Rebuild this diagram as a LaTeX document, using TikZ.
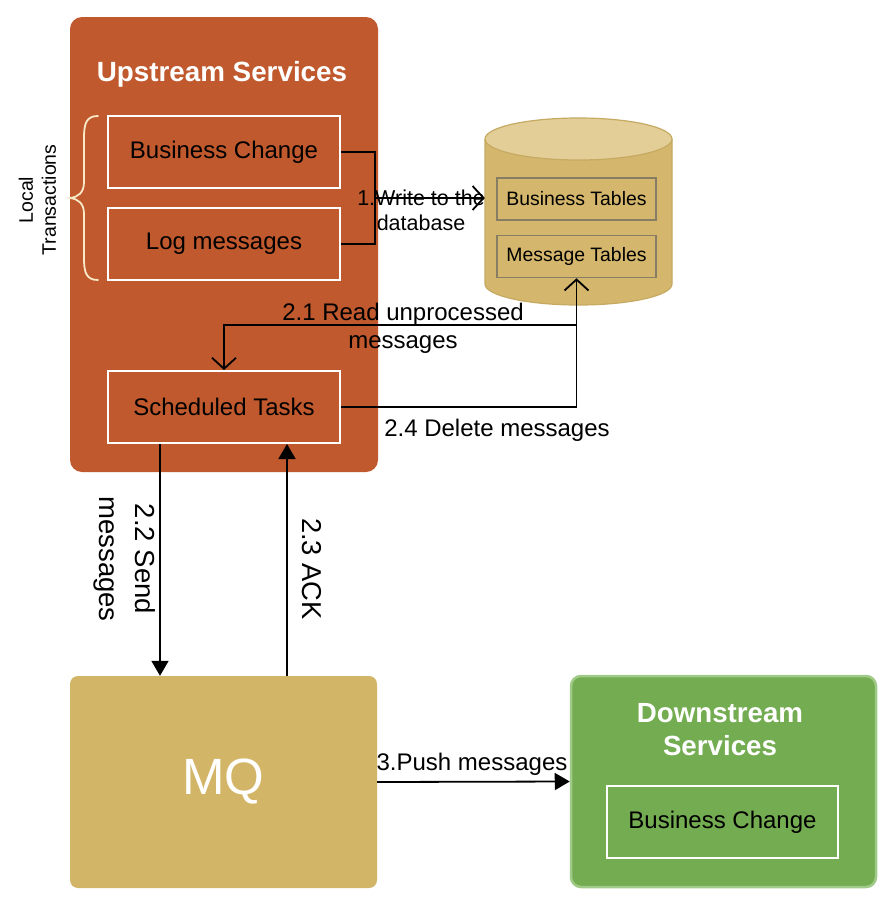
\documentclass[tikz,border=0pt]{standalone}
\usepackage{fontspec}
\setmainfont{Liberation Sans}
\usetikzlibrary{arrows.meta}
\definecolor{upc}{RGB}{192,89,45}
\definecolor{mqc}{RGB}{211,181,103}
\definecolor{dsc}{RGB}{116,172,82}
\definecolor{dsb}{RGB}{160,202,136}
\definecolor{cylbody}{RGB}{212,182,108}
\definecolor{cyltop}{RGB}{227,206,152}
\definecolor{cylline}{RGB}{198,170,98}
\definecolor{tabline}{RGB}{135,125,100}
\definecolor{bracec}{RGB}{248,232,200}
\tikzset{
  fs/.style 2 args={font=\fontsize{#1}{#2}\selectfont},
  inbox/.style={draw=white, line width=2pt, minimum width=232pt, minimum height=72pt, inner sep=0pt, fs={24}{28}},
  tabbox/.style={draw=tabline, line width=1.5pt, minimum width=159pt, minimum height=42pt, inner sep=0pt, fs={19.4}{23}},
  conn/.style={line width=1.8pt, black},
  openarr/.style={conn, -{Straight Barb[length=11pt,width=24pt,line width=1.8pt]}},
  fillarr/.style={conn, -{Triangle[length=15pt,width=17pt]}},
  lbl/.style={fs={24}{28}, align=center, inner sep=0pt, yshift=-2pt},
}
\begin{document}
\begin{tikzpicture}[x=1pt,y=-1pt]
\useasboundingbox (0,0) rectangle (890,908);
\fill[white] (0,0) rectangle (890,908);

% Upstream
\node[fill=upc, rounded corners=12pt, minimum width=308pt, minimum height=455pt, inner sep=0pt] (up) at (224,244.5) {};
\node[text=white, font=\bfseries\fontsize{27.8}{32}\selectfont] (uptitle) at (222,74) {Upstream Services};
\node[inbox] (bc1) at (224,152) {Business Change};
\node[inbox] (lm) at (224,244) {Log messages};
\node[inbox] (st) at (224,407) {Scheduled Tasks};

% brace
\draw[bracec, line width=1.8pt, line cap=round]
  (98,116) .. controls (86,116) and (84,124) .. (84,138) -- (84,182)
  .. controls (84,193) and (78,197) .. (70,198)
  .. controls (78,199) and (84,203) .. (84,214) -- (84,258)
  .. controls (84,272) and (86,280) .. (98,280);
\node[fs={19.5}{23}, rotate=90, align=center, inner sep=0pt] (lt) at (37.5,200) {Local\\Transactions};

% Cylinder
\node[minimum width=187pt, minimum height=145pt, inner sep=0pt] (db) at (578.5,212) {};
\fill[cylbody] (485,139) -- (485,284) arc[start angle=180, end angle=0, x radius=93.5, y radius=21] -- (672,139) -- cycle;
\draw[cylline, line width=1.2pt] (485,139) -- (485,284) arc[start angle=180, end angle=0, x radius=93.5, y radius=21] -- (672,139);
\draw[cylline, line width=1.2pt, fill=cyltop] (578.5,139) ellipse[x radius=93.5, y radius=21];
\node[tabbox] (bt) at (576.5,199) {Business Tables};
\node[tabbox] (mt) at (576.5,256.5) {Message Tables};

% MQ
\node[fill=mqc, rounded corners=8pt, minimum width=307pt, minimum height=212pt, inner sep=0pt, text=white, fs={51}{58}] (mq) at (223.5,782) {MQ};

% Downstream
\node[fill=dsc, draw=dsb, line width=2.5pt, rounded corners=10pt, minimum width=305pt, minimum height=211pt, inner sep=0pt] (ds) at (723.5,781.5) {};
\node[text=white, align=center, font=\bfseries\fontsize{27.7}{33}\selectfont] (dstitle) at (720,730) {Downstream\\Services};
\node[inbox, minimum width=231pt] (bc2) at (722.5,822) {Business Change};

% Connector 1
\coordinate (j) at (375,198);
\draw[conn] (bc1.east) -| (j) |- (lm.east);
\draw[openarr] (j) -- (db.west |- j);
\node[lbl, fs={21.5}{25}] (l1) at (421,208) {1.Write to the\\database};

% 2.1
\coordinate (r1) at (577,325);
\draw[openarr] (st.east) -| (mt.south);
\draw[openarr] (r1) -| (st.north);
\node[lbl, fs={24}{28}] (l21) at (403,326) {2.1 Read unprocessed\\messages};
\node[lbl] (l24) at (497,428) {2.4 Delete messages};

% 2.2 / 2.3
\draw[fillarr] ([xshift=-64pt]st.south) -- ([xshift=-64pt]st.south |- mq.north);
\draw[fillarr] ([xshift=63pt]st.south |- mq.north) -- ([xshift=63pt]st.south);
\node[lbl, fs={27.5}{36}, rotate=-90, yshift=2pt] (l22) at (123,557) {2.2 Send\\messages};
\node[lbl, fs={27.3}{32}, rotate=-90, yshift=2pt] (l23) at (310,567) {2.3 ACK};

% 3
\draw[fillarr] (mq.east) -- (ds.west);
\node[lbl] (l3) at (472,762) {3.Push messages};
\end{tikzpicture}
\end{document}
